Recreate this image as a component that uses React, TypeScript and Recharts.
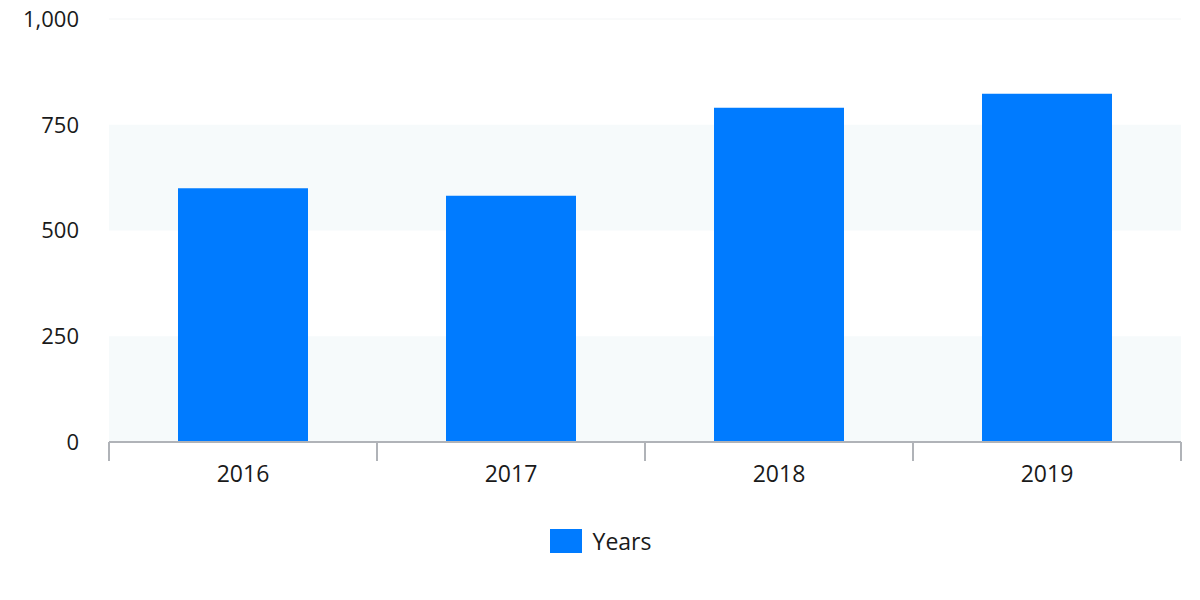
import React from 'react';
import { BarChart, Bar, XAxis, YAxis, ReferenceArea, ReferenceLine, Legend } from 'recharts';

const categories = ['2016', '2017', '2018', '2019'];
const yearsValues = [600, 582, 790, 823];
const yTicks = [0, 250, 500, 750, 1000];
const bands = [
  [0, 250],
  [500, 750],
];

const data = categories.map((c, i) => ({ year: c, Years: yearsValues[i] }));

const W = 1200;
const H = 600;
const BAR = '#007bff';
const AXIS = '#b0b3b8';
const FONT = '"Open Sans", sans-serif';

const XTick = (props: any) => {
  const { x, y, payload, index, width, visibleTicksCount } = props;
  const n = visibleTicksCount || categories.length;
  const band = width / n;
  const left = x - band / 2;
  const right = x + band / 2;
  return (
    <g>
      <line x1={left} x2={left} y1={y - 8} y2={y + 11} stroke={AXIS} strokeWidth={2} />
      {index === n - 1 && (
        <line x1={right} x2={right} y1={y - 8} y2={y + 11} stroke={AXIS} strokeWidth={2} />
      )}
      <text x={x} y={y + 23} textAnchor="middle" dominantBaseline="central" fill="#1a1a1a" fontSize={23} fontFamily={FONT}>
        {payload.value}
      </text>
    </g>
  );
};

const LegendContent = () => (
  <div style={{ width: W, height: 98, display: 'flex', justifyContent: 'center', alignItems: 'flex-start', paddingTop: 27, paddingLeft: 1, boxSizing: 'border-box' }}>
    <div style={{ display: 'flex', alignItems: 'center' }}>
      <div style={{ width: 32, height: 24, background: BAR, marginRight: 11 }} />
      <span style={{ fontFamily: FONT, fontSize: 23, color: '#1a1a1a', lineHeight: '24px' }}>Years</span>
    </div>
  </div>
);

export default function App() {
  return (
    <div style={{ position: 'absolute', left: 0, top: 0, width: W, height: H, background: '#fff' }}>
      <BarChart width={W} height={H} data={data} margin={{ top: 19, right: 19, bottom: 0, left: 0 }}>
        {bands.map(([a, b], i) => (
          <ReferenceArea key={i} y1={a} y2={b} fill="#f6fafb" fillOpacity={1} stroke="none" ifOverflow="visible" />
        ))}
        <ReferenceLine y={1000} stroke="#f3f5f6" strokeWidth={1} />
        <XAxis
          dataKey="year"
          height={60}
          tickLine={false}
          axisLine={{ stroke: AXIS, strokeWidth: 2 }}
          tick={<XTick />}
          interval={0}
        />
        <YAxis
          width={109}
          domain={[0, 1000]}
          ticks={yTicks}
          axisLine={false}
          tickLine={false}
          tickSize={0}
          tickMargin={30}
          tickFormatter={(v: number) => v.toLocaleString('en-US')}
          tick={{ fill: '#1a1a1a', fontSize: 22, fontFamily: FONT }}
        />
        <Legend verticalAlign="bottom" height={98} wrapperStyle={{ left: 0, width: W }} content={<LegendContent />} />
        <Bar dataKey="Years" fill={BAR} barSize={130} isAnimationActive={false} />
      </BarChart>
    </div>
  );
}
